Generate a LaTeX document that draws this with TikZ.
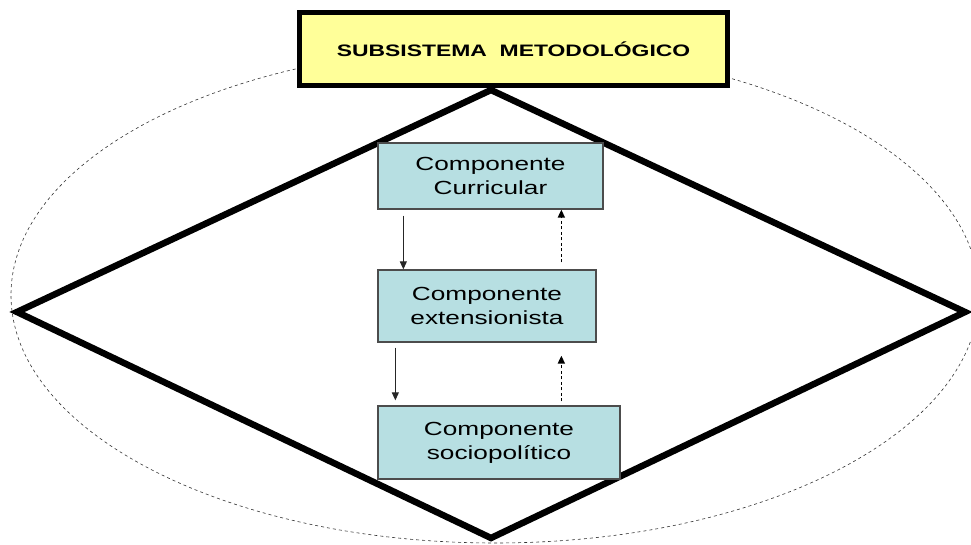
\documentclass[tikz,border=0pt]{standalone}
\usepackage{fontspec}
\newfontfamily\boxfont{Liberation Sans}[FakeStretch=1.38]
\usetikzlibrary{arrows.meta}
\definecolor{titlefill}{RGB}{255,255,153}
\definecolor{compfill}{RGB}{183,223,226}
\def\cx{491}   % centre of the diamond
\def\cy{312}
\def\dw{474}   % half width of the diamond
\begin{document}
\begin{tikzpicture}[x=1pt,y=-1pt,
    compbox/.style={draw=black!70,line width=1.3pt,fill=compfill,align=center,
      inner sep=0pt,font=\boxfont\fontsize{19}{24}\selectfont},
    titlebox/.style={draw=black,line width=5pt,fill=titlefill,inner sep=0pt,
      minimum width=428pt,minimum height=73pt,
      font=\boxfont\bfseries\fontsize{16.6}{19}\selectfont},
    solidarr/.style={-{Triangle[length=8pt,width=7pt]},line width=1.1pt,black!85},
    dasharr/.style={-{Triangle[length=8pt,width=7pt]},line width=1.7pt,
      dash pattern=on 3pt off 2.5pt}]
  \useasboundingbox (0,0) rectangle (971,545);
  % outer ellipse and diamond
  \draw[line width=0.6pt,black!80,dash pattern=on 3pt off 3pt]
    (495,295) ellipse [x radius=484,y radius=248];
  \draw[line width=6.5pt] (\cx,90) -- (\cx+\dw,\cy) -- (\cx,538)
    -- (\cx-\dw,\cy) -- cycle;
  % the three components
  \foreach \name/\x/\y/\w/\h/\txt in {
      curr/490.5/176/225/66/Curricular,
      ext/487/306/218/72/extensionista,
      soc/499/442.5/242/73/sociopolítico
    } {
      \node[compbox,minimum width=\w pt,minimum height=\h pt] (\name)
        at (\x,\y) {Componente\\\txt};
    };
  % links between components
  \draw[solidarr] ([xshift=26pt,yshift=-6pt]curr.south west)
    -- ([xshift=26pt]ext.north west);
  \draw[dasharr] ([xshift=184pt,yshift=7pt]ext.north west)
    -- ([xshift=184pt]curr.south west);
  \draw[solidarr] ([xshift=18pt,yshift=-5pt]ext.south west)
    -- ([xshift=18pt,yshift=5pt]soc.north west);
  \draw[dasharr] ([xshift=184pt,yshift=4pt]soc.north west)
    -- ([xshift=184pt,yshift=-13pt]ext.south west);
  % title
  \node[titlebox] (title) at (513.5,49) {SUBSISTEMA\ \ METODOLÓGICO};
\end{tikzpicture}
\end{document}
